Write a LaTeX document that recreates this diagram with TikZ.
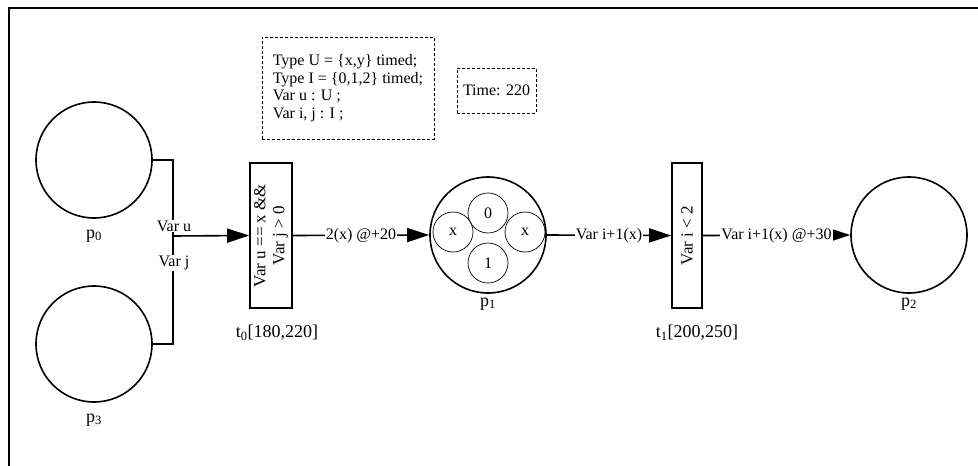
\documentclass[tikz,border=0pt]{standalone}
\usepackage{fontspec}
\setmainfont{Liberation Serif}
\usetikzlibrary{arrows.meta}

\begin{document}
\begin{tikzpicture}[x=1pt, y=-1pt,
    every node/.style={font=\fontsize{16}{17.5}\selectfont},
    place/.style={draw, circle, line width=1.6pt, minimum size=116pt, inner sep=0pt},
    token/.style={draw, circle, line width=0.7pt, minimum size=40pt, inner sep=0pt},
    trans/.style={draw, rectangle, line width=1.6pt, inner sep=0pt},
    pnlabel/.style={font=\fontsize{18}{20}\selectfont},
    arc/.style={line width=1.6pt, -{Triangle[length=22pt,width=14pt]}},
    lbl/.style={fill=white, inner sep=1pt},
    decl/.style={draw, dash pattern=on 3pt off 2pt, line width=0.7pt, align=left}]
        \useasboundingbox (0,0) rectangle (978,466);

        % Frame (only top and left edge visible)
        \draw[line width=2.5pt] (9,466) -- (9,8) -- (978,8);

        % Declarations
        \node[decl, minimum width=172pt, minimum height=102pt] (decls) at (348,88)
            {Type U = \{x,y\} timed;\\Type I = \{0,1,2\} timed;\\Var u : U ;\\Var i, j : I ;};
        \node[decl, minimum width=79pt, minimum height=45pt] (clock) at (496.5,90.5) {Time: 220};

        % Places
        \node[place] (p0) at (94,160) {};
        \node[pnlabel] (p0lbl) at (94,236) {p\textsubscript{0}};
        \node[place] (p3) at (94,344) {};
        \node[pnlabel] (p3lbl) at (94,420) {p\textsubscript{3}};
        \node[place] (p1) at (488,235) {};
        \node[pnlabel] (p1lbl) at (488,304) {p\textsubscript{1}};
        \node[place] (p2) at (909,235) {};
        \node[pnlabel] (p2lbl) at (909,304) {p\textsubscript{2}};

        % Tokens in p1
        \node[token] (tk0) at (488,213) {0};
        \node[token] (tk1) at (488,263) {1};
        \node[token] (tkxl) at (453,232) {x};
        \node[token] (tkxr) at (525,232) {x};

        % Transitions
        \node[trans, minimum width=42pt, minimum height=145pt] (t0) at (271,235.5) {};
        \node[rotate=90, align=center, font=\fontsize{17}{19}\selectfont] (t0text) at (t0) {Var u == x \&\&\\Var j > 0};
        \node[pnlabel] (t0lbl) at (277,333) {t\textsubscript{0}[180,220]};
        \node[trans, minimum width=30pt, minimum height=145pt] (t1) at (687,235.5) {};
        \node[rotate=90, font=\fontsize{17}{19}\selectfont] (t1text) at (t1) {Var i < 2};
        \node[pnlabel] (t1lbl) at (697,333) {t\textsubscript{1}[200,250]};

        % Arcs
        \coordinate (jn) at (173,236);
        \draw[line width=1.6pt] (p0.east) -| (jn);
        \draw[line width=1.6pt] (p3.east) -| (jn);
        \node[lbl] (varu) at (174,226) {Var u};
        \node[lbl] (varj) at (174,263) {Var j};
        \draw[arc] (jn) -- (t0.west);

        \draw[arc] (t0.east) -- node[lbl] {2(x) @+20} (p1.west);
        \draw[arc] (p1.east) -- node[lbl] {Var i+1(x)} (t1.west);
        \draw[arc] (t1.east) -- node[lbl] {Var i+1(x) @+30} (p2.west);
\end{tikzpicture}
\end{document}
